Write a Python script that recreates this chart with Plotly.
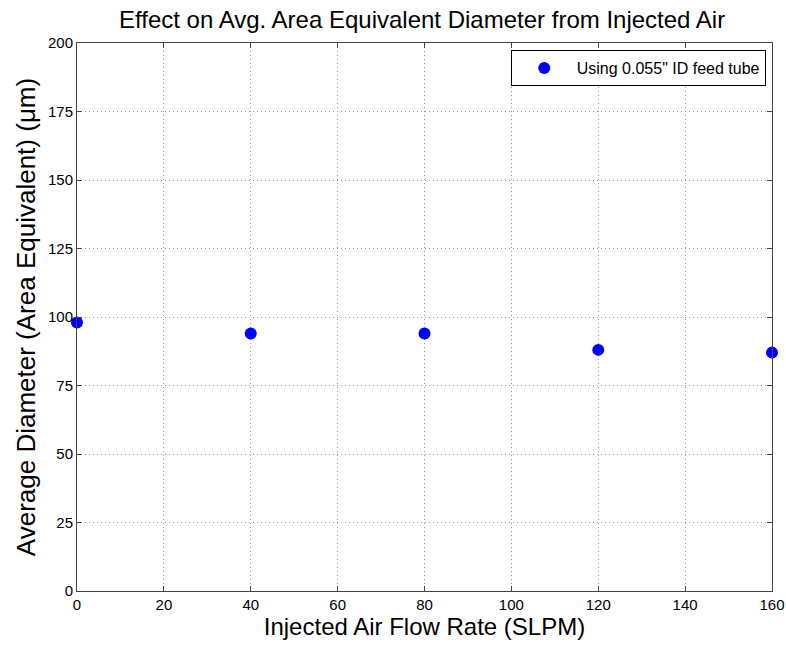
import plotly.graph_objects as go

flow_rate = [0, 40, 80, 120, 160]
avg_diameter = [98, 94, 94, 88, 87]
x_ticks = [0, 20, 40, 60, 80, 100, 120, 140, 160]
y_ticks = [0, 25, 50, 75, 100, 125, 150, 175, 200]

FONT = "Liberation Sans, Arial"

fig = go.Figure()
fig.add_trace(go.Scatter(
    x=flow_rate, y=avg_diameter, mode="markers",
    marker=dict(color="#0000ff", size=12),
    name="Using 0.055\" ID feed tube", cliponaxis=False,
))

axis_common = dict(
    showline=True, linecolor="#444444", linewidth=1, mirror="ticks",
    ticks="inside", ticklen=5, tickcolor="#444444",
    showgrid=True, gridcolor="#999999", griddash="1px,3px", gridwidth=1,
    zeroline=False, automargin=False,
    tickfont=dict(family=FONT, size=15, color="black"),
)

fig.update_layout(
    width=786, height=645,
    paper_bgcolor="white", plot_bgcolor="white",
    margin=dict(l=77, r=14, t=43, b=54),
    title=dict(text="Effect on Avg. Area Equivalent Diameter from Injected Air",
               x=0.537, xanchor="center", y=0.969, yanchor="middle",
               font=dict(family=FONT, size=24, color="black")),
    xaxis=dict(range=[0, 160], tickvals=x_ticks,
               title=dict(text="Injected Air Flow Rate (SLPM)", standoff=6,
                          font=dict(family=FONT, size=24, color="black")),
               **axis_common),
    yaxis=dict(range=[0, 200], tickvals=y_ticks,
               title=dict(text="Average Diameter (Area Equivalent) (μm)", standoff=4,
                          font=dict(family=FONT, size=26, color="black")),
               **axis_common),
    legend=dict(x=0.991, xanchor="right", y=0.987, yanchor="top",
                bordercolor="black", borderwidth=1, bgcolor="white",
                itemwidth=55,
                font=dict(family=FONT, size=16, color="black")),
    showlegend=True,
)

fig.write_html("out.html", config={"displayModeBar": False},
               post_script="document.body.style.margin='0';")
